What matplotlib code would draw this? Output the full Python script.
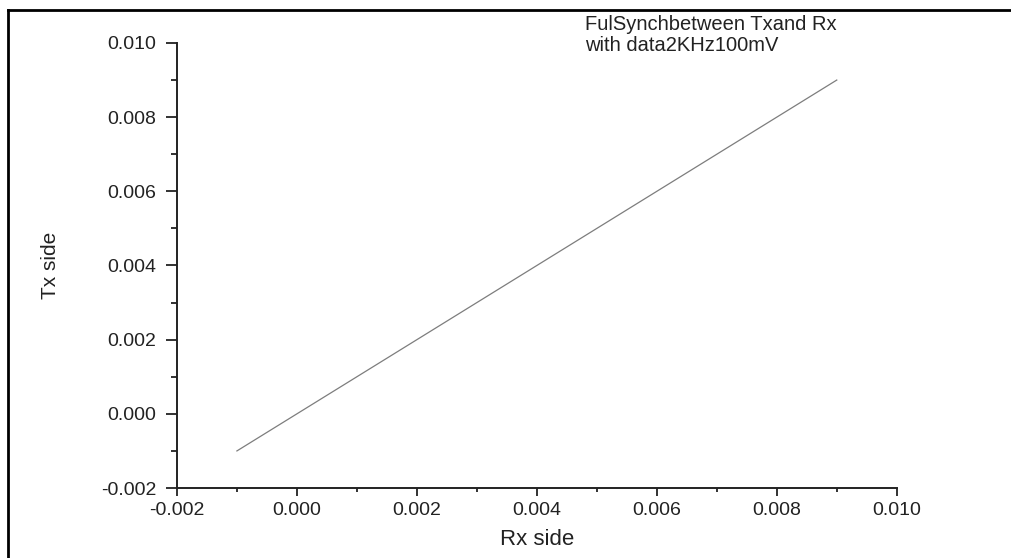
import numpy as np
import matplotlib
matplotlib.use('Agg')
import matplotlib.pyplot as plt
from matplotlib.lines import Line2D
from matplotlib.ticker import MultipleLocator, FormatStrFormatter

plt.rcParams['font.family'] = ['Liberation Sans', 'DejaVu Sans']

# Rx vs Tx samples (full synchronisation -> identity line)
rx = [-0.001, 0.009]
tx = [-0.001, 0.009]

xlim = (-0.002, 0.010)
ylim = (-0.002, 0.010)

title_lines = ['FulSynchbetween Txand Rx', 'with data2KHz100mV']

fig = plt.figure(figsize=(10.11, 5.58), dpi=100)
ax = fig.add_axes([0.175, 0.1254, 0.712, 0.7976])

ax.plot(rx, tx, color='#7d7d7d', lw=0.9)

ax.set_xlim(*xlim)
ax.set_ylim(*ylim)
ax.xaxis.set_major_locator(MultipleLocator(0.002))
ax.xaxis.set_minor_locator(MultipleLocator(0.001))
ax.yaxis.set_major_locator(MultipleLocator(0.002))
ax.yaxis.set_minor_locator(MultipleLocator(0.001))
ax.xaxis.set_major_formatter(FormatStrFormatter('%.3f'))
ax.yaxis.set_major_formatter(FormatStrFormatter('%.3f'))

for s in ['top', 'right']:
    ax.spines[s].set_visible(False)
for s in ['left', 'bottom']:
    ax.spines[s].set_linewidth(1.4)
    ax.spines[s].set_color('#222222')

ax.tick_params(axis='x', which='major', direction='out', length=6, width=1.3,
               labelsize=14, colors='#222222', pad=4)
ax.tick_params(axis='x', which='minor', direction='out', length=3, width=1.3,
               colors='#222222')
ax.tick_params(axis='y', which='major', direction='out', length=8, width=1.3,
               labelsize=14, colors='#222222', pad=7)
ax.tick_params(axis='y', which='minor', direction='out', length=4.5, width=1.3,
               colors='#222222')

ax.set_xlabel('Rx side', fontsize=16, color='#222222', labelpad=7)
ax.set_ylabel('Tx side', fontsize=15, color='#222222', labelpad=29)

# two-line annotation in the top right corner
fig.text(0.5786, 1 - 30 / 558, title_lines[0], fontsize=14.5,
         color='#222222', ha='left', va='baseline')
fig.text(0.5786, 1 - 51 / 558, title_lines[1], fontsize=14.5,
         color='#222222', ha='left', va='baseline')

# frame around the page (left and top edges)
fig.add_artist(Line2D([0.008, 0.008], [0.0, 0.982], transform=fig.transFigure,
                      color='black', lw=2))
fig.add_artist(Line2D([0.008, 1.0], [0.982, 0.982], transform=fig.transFigure,
                      color='black', lw=2))

fig.savefig('out.png', dpi=100)
